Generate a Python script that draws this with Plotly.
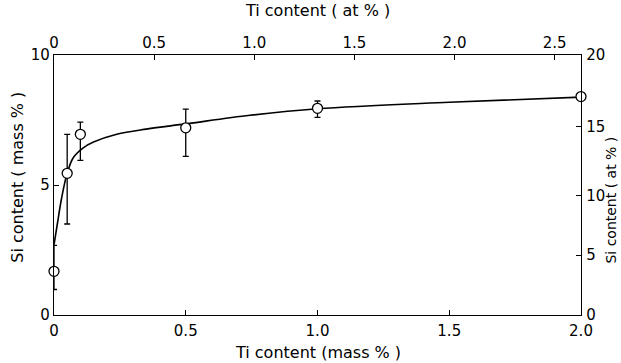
import plotly.graph_objects as go

# Measured points: Ti content (mass %) vs Si content (mass %)
ti_mass = [0.0, 0.05, 0.1, 0.5, 1.0, 2.0]
si_mass = [1.68, 5.45, 6.95, 7.2, 7.95, 8.4]
err_plus = [1.0, 1.5, 0.47, 0.72, 0.28, 0.0]
err_minus = [0.7, 1.95, 1.0, 1.1, 0.35, 0.0]

# Fitted curve
curve_ti = [0.0, 0.0126, 0.029, 0.05, 0.073, 0.111, 0.15, 0.238, 0.35, 0.5, 0.744, 1.0, 1.5, 2.0]
curve_si = [2.7, 3.5, 4.5, 5.45, 6.05, 6.43, 6.65, 6.95, 7.15, 7.35, 7.68, 7.93, 8.18, 8.38]

# Axis ticks
bottom_ticks = [0, 0.5, 1.0, 1.5, 2.0]
bottom_labels = ["0", "0.5", "1.0", "1.5", "2.0"]
top_tick_pos = [0, 0.38, 0.76, 1.14, 1.52, 1.90]          # mass % positions of at % ticks
top_labels = ["0", "0.5", "1.0", "1.5", "2.0", "2.5"]
left_ticks = [0, 5, 10]
left_labels = ["0", "5", "10"]
right_tick_pos = [0, 2.3, 4.6, 7.24, 10.0]               # mass % positions of at % ticks
right_labels = ["0", "5", "10", "15", "20"]

# Axis titles
x_title = "Ti content (mass % )"
x2_title = "Ti content ( at % )"
y_title = "Si content ( mass % )"
y2_title = "Si content ( at % )"

FONT = "DejaVu Sans"
fig = go.Figure()

fig.add_trace(go.Scatter(
    x=curve_ti, y=curve_si, mode="lines",
    line=dict(color="black", width=1.6, shape="spline", smoothing=1.0),
    hoverinfo="skip", showlegend=False))

fig.add_trace(go.Scatter(
    x=ti_mass, y=si_mass, mode="markers",
    marker=dict(symbol="circle", size=10, color="white",
                line=dict(color="black", width=1.3)),
    error_y=dict(type="data", symmetric=False, array=err_plus, arrayminus=err_minus,
                 color="black", thickness=1.3, width=3),
    cliponaxis=False, showlegend=False))

# invisible trace for secondary axes
fig.add_trace(go.Scatter(x=[0], y=[0], xaxis="x2", yaxis="y2", mode="markers",
                         marker=dict(opacity=0), showlegend=False, hoverinfo="skip"))

axis_common = dict(showline=True, linecolor="black", linewidth=1.3, ticks="inside",
                   ticklen=5, tickcolor="black", showgrid=False, zeroline=False,
                   automargin=False,
                   tickfont=dict(family=FONT, size=15, color="black"))

title_font = dict(family=FONT, size=16, color="black")

fig.update_layout(
    width=621, height=363,
    margin=dict(l=54, r=40, t=55, b=48),
    plot_bgcolor="white", paper_bgcolor="white",
    font=dict(family=FONT, color="black"),
    xaxis=dict(range=[0, 2], tickvals=bottom_ticks, ticktext=bottom_labels,
               ticklabelstandoff=2, **axis_common),
    xaxis2=dict(range=[0, 2], overlaying="x", side="top", anchor="y",
                tickvals=top_tick_pos, ticktext=top_labels, **axis_common),
    yaxis=dict(range=[0, 10], tickvals=left_ticks, ticktext=left_labels, **axis_common),
    yaxis2=dict(range=[0, 10], overlaying="y", side="right", anchor="x",
                tickvals=right_tick_pos, ticktext=right_labels,
                ticklabelstandoff=1, **axis_common),
    annotations=[
        dict(text=x_title, xref="paper", yref="paper", x=0.5, y=0, xanchor="center",
             yanchor="top", yshift=-26, showarrow=False, font=title_font),
        dict(text=x2_title, xref="paper", yref="paper", x=0.5, y=1, xanchor="center",
             yanchor="bottom", yshift=33, showarrow=False, font=title_font),
        dict(text=y_title, xref="paper", yref="paper", x=0, y=0.53, xanchor="right",
             yanchor="middle", xshift=-25, textangle=-90, showarrow=False, font=title_font),
        dict(text=y2_title, xref="paper", yref="paper", x=1, y=0.44, xanchor="left",
             yanchor="middle", xshift=20, textangle=-90, showarrow=False,
             font=dict(family=FONT, size=14, color="black")),
    ],
)

fig.write_html("out.html", config={"displayModeBar": False},
               post_script="document.body.style.margin='0';document.body.style.padding='0';")
